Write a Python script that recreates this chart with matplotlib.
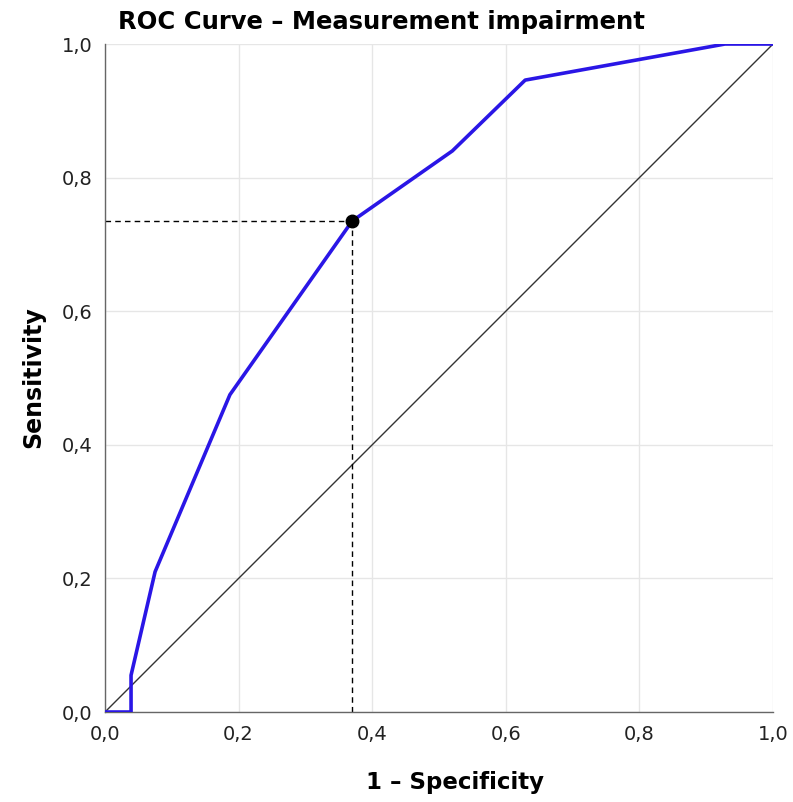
import numpy as np
import matplotlib.pyplot as plt
from matplotlib.ticker import FuncFormatter

# ROC points
fpr = [0.0, 0.039, 0.039, 0.075, 0.187, 0.37, 0.52, 0.629, 0.928, 1.0]
tpr = [0.0, 0.0, 0.055, 0.21, 0.475, 0.735, 0.84, 0.946, 1.0, 1.0]
cut_x = 0.37
cut_y = 0.735
ticks = [0.0, 0.2, 0.4, 0.6, 0.8, 1.0]

plt.rcParams['font.family'] = ['DejaVu Sans']

fig = plt.figure(figsize=(7.93, 8.02), dpi=100)
ax = fig.add_axes([0.1324, 0.1122, 0.8424, 0.8329])

ax.plot([0, 1], [0, 1], color="#333333", lw=1.0, zorder=2)
ax.plot(fpr, tpr, color="#2a16e6", lw=2.6, zorder=3, solid_joinstyle="round")
ax.plot([0, cut_x], [cut_y, cut_y], "--", color="black", lw=1.0, dashes=(4, 3), zorder=2)
ax.plot([cut_x, cut_x], [0, cut_y], "--", color="black", lw=1.0, dashes=(4, 3), zorder=2)
ax.plot([cut_x], [cut_y], "o", color="black", ms=9, zorder=4)

ax.set_xlim(0, 1)
ax.set_ylim(0, 1)
ax.set_xticks(ticks)
ax.set_yticks(ticks)
fmt = FuncFormatter(lambda v, p: f"{v:.1f}".replace(".", ","))
ax.xaxis.set_major_formatter(fmt)
ax.yaxis.set_major_formatter(fmt)
ax.tick_params(length=0, labelsize=14, colors="#222222", pad=9)
ax.grid(True, color="#e6e6e6", lw=1.0, zorder=0)

for s in ["top", "right"]:
    ax.spines[s].set_visible(False)
for s in ["left", "bottom"]:
    ax.spines[s].set_color("#666666")
    ax.spines[s].set_linewidth(1.0)

ax.set_xlabel("1 – Specificity", fontsize=16.5, fontweight="bold")
ax.xaxis.set_label_coords(0.524, -0.088)
ax.set_ylabel("Sensitivity", fontsize=17, fontweight="bold")
ax.yaxis.set_label_coords(-0.09, 0.502)
fig.text(0.149, 0.972, "ROC Curve – Measurement impairment", fontsize=17.5,
         fontweight="bold", va="center", ha="left")

fig.savefig("out.png", dpi=100)
